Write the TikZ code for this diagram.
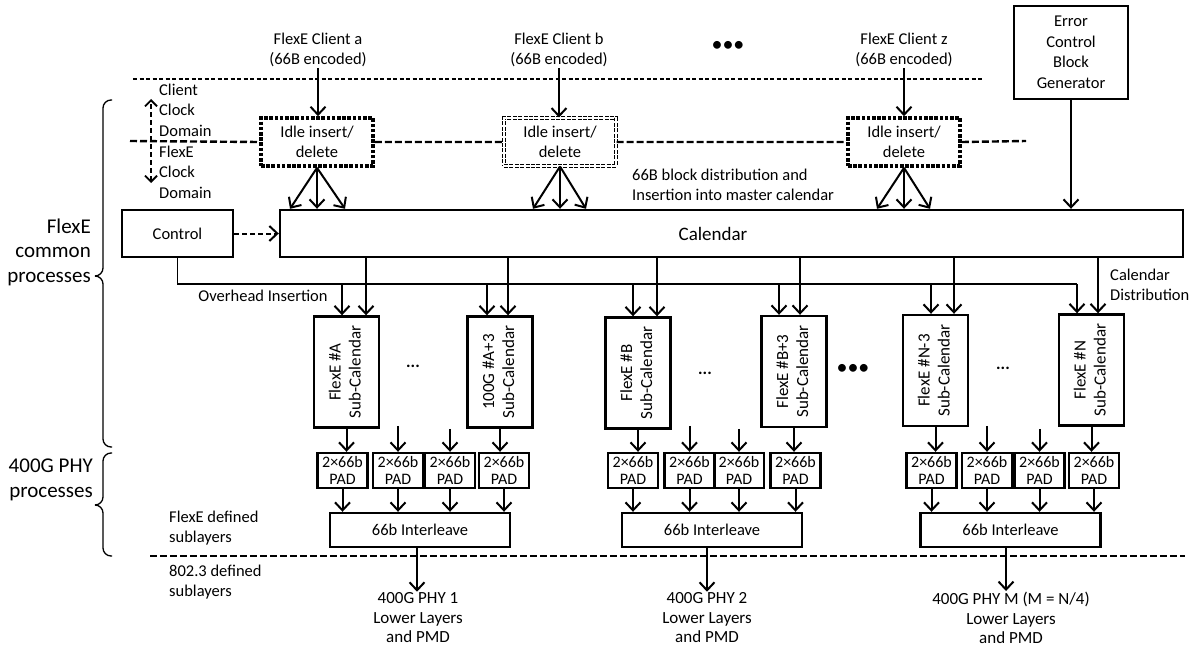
\documentclass[tikz,border=0pt]{standalone}
\usepackage{fontspec}
\setmainfont{Carlito}
\usetikzlibrary{arrows.meta}

\newcommand{\subcaltext}[1]{\rotatebox{90}{\begin{tabular}{@{}c@{}}#1\\Sub-Calendar\end{tabular}}}

\begin{document}
\begin{tikzpicture}[x=1pt,y=-1pt,
  txt/.style={font=\fontsize{16.5}{20.5}\selectfont,align=center,inner sep=1pt},
  box/.style={draw,line width=2.4pt,inner sep=0pt,align=center,font=\fontsize{16.5}{20.5}\selectfont},
  idlebox/.style={box,fill=white,minimum width=112pt,minimum height=48pt,line width=3.6pt,dash pattern=on 3.6pt off 1.6pt},
  idleboxb/.style={box,fill=white,minimum width=112pt,minimum height=48pt,line width=1pt,double,double distance=2.2pt,dash pattern=on 4pt off 1.4pt},
  subcal/.style={box,minimum width=65pt,minimum height=111pt,font=\fontsize{17}{20}\selectfont},
  pad/.style={box,minimum width=50pt,minimum height=35pt,font=\fontsize{16}{17}\selectfont},
  ilv/.style={box,minimum width=180pt,minimum height=34pt},
  arr/.style={line width=2pt,-{Straight Barb[length=8pt,width=15pt]}},
  thinline/.style={line width=1.2pt},
  bracket/.style={line width=1.3pt,rounded corners=8pt},
  biglabel/.style={font=\fontsize{21}{24.5}\selectfont,align=right,inner sep=0pt}]
\useasboundingbox (0,0) rectangle (1199,650);

% clients and clock domains
\node[txt] (cla) at (318,50) {FlexE Client a\\(66B encoded)};
\node[txt] (clb) at (559,50) {FlexE Client b\\(66B encoded)};
\node[txt] (clz) at (904,50) {FlexE Client z\\(66B encoded)};
\node[font=\fontsize{22}{22}\selectfont,inner sep=0pt] (dotstop) at (728,46) {\textbullet\textbullet\textbullet};
\node[box,minimum width=114pt,minimum height=93pt] (errg) at (1071,52.5) {Error\\Control\\Block\\Generator};

\coordinate (topL) at (133,79);
\coordinate (topR) at (983,79);
\draw[thinline,dash pattern=on 4pt off 2.5pt] (topL) -- (topR);

\node[idlebox] (idleA) at (317,142) {Idle insert/\\delete};
\node[idleboxb] (idleB) at (560,142) {Idle insert/\\delete};
\node[idlebox] (idleZ) at (904,142) {Idle insert/\\delete};
\coordinate (domL) at (130,141);
\coordinate (domR) at (1026,141);
\draw[line width=2.4pt,dash pattern=on 7pt off 3pt] (domL) -- (idleA.west) (idleA.east) -- (idleB.west) (idleB.east) -- (idleZ.west) (idleZ.east) -- (domR);

\coordinate (clkT) at (151,99);
\coordinate (clkB) at (151,183);
\draw[line width=1.8pt,dash pattern=on 5pt off 3pt,{Straight Barb[length=6pt,width=12pt]}-{Straight Barb[length=6pt,width=12pt]}] (clkB) -- (clkT);
\node[txt,anchor=west,align=left] (clkcl) at (158,110) {Client\\Clock\\Domain};
\node[txt,anchor=west,align=left] (clkfx) at (158,172) {FlexE\\Clock\\Domain};

% calendar
\node[box,minimum width=111pt,minimum height=47pt] (ctrl) at (177.5,233.5) {Control};
\node[box,minimum width=903pt,minimum height=47pt] (cal) at (731.5,233.5) {};
\node[font=\fontsize{19}{22}\selectfont] (caltxt) at (713,234) {Calendar};
\draw[line width=2pt,dash pattern=on 5pt off 3pt,-{Straight Barb[length=8pt,width=15pt]}] (ctrl.east) -- (cal.west);
\node[txt,anchor=west,align=left] (distxt) at (631,185) {66B block distribution and\\Insertion into master calendar};

\draw[arr] (cla.south) -- (cla.south |- idleA.north);
\draw[arr] (clb.south) -- (clb.south |- idleB.north);
\draw[arr] (clz.south) -- (clz.south |- idleZ.north);
\draw[arr] (idleA.south) -- ([xshift=-27pt]idleA.south |- cal.north);
\draw[arr] (idleA.south) -- (idleA.south |- cal.north);
\draw[arr] (idleA.south) -- ([xshift=28pt]idleA.south |- cal.north);
\draw[arr] (idleB.south) -- ([xshift=-27pt]idleB.south |- cal.north);
\draw[arr] (idleB.south) -- (idleB.south |- cal.north);
\draw[arr] (idleB.south) -- ([xshift=26pt]idleB.south |- cal.north);
\draw[arr] (idleZ.south) -- ([xshift=-27pt]idleZ.south |- cal.north);
\draw[arr] (idleZ.south) -- (idleZ.south |- cal.north);
\draw[arr] (idleZ.south) -- ([xshift=26pt]idleZ.south |- cal.north);
\draw[arr] (errg.south) -- (errg.south |- cal.north);

% sub-calendars
\node[subcal] (subA) at (346.5,372) {\subcaltext{FlexE \#A}};
\node[subcal] (subA3) at (500,372) {\subcaltext{100G \#A+3}};
\node[subcal] (subB) at (638,373) {\subcaltext{FlexE \#B}};
\node[subcal] (subB3) at (794,371.5) {\subcaltext{FlexE \#B+3}};
\node[subcal] (subN3) at (935.5,370.5) {\subcaltext{FlexE \#N-3}};
\node[subcal] (subN) at (1091.5,370) {\subcaltext{FlexE \#N}};
\node[font=\bfseries\fontsize{17}{17}\selectfont] (dotsA) at (413,366) {...};
\node[font=\bfseries\fontsize{17}{17}\selectfont] (dotsB) at (705,373) {...};
\node[font=\bfseries\fontsize{17}{17}\selectfont] (dotsN) at (1003,368) {...};
\node[font=\fontsize{22}{22}\selectfont,inner sep=0pt] (dotsmid) at (853,369) {\textbullet\textbullet\textbullet};

\coordinate (busend) at (1077,284);
\draw[thinline] (ctrl.south) |- (busend);
\node[txt] (ohtxt) at (263,296) {Overhead Insertion};
\node[txt,anchor=west,align=left] (cdtxt) at (1109,285) {Calendar\\Distribution};

\draw[arr] ([xshift=-4.5pt]subA.north |- busend) -- ([xshift=-4.5pt]subA.north);
\draw[arr] ([xshift=19.5pt]subA.north |- cal.south) -- ([xshift=19.5pt]subA.north);
\draw[arr] ([xshift=-13pt]subA3.north |- busend) -- ([xshift=-13pt]subA3.north);
\draw[arr] ([xshift=8pt]subA3.north |- cal.south) -- ([xshift=8pt]subA3.north);
\draw[arr] ([xshift=-5pt]subB.north |- busend) -- ([xshift=-5pt]subB.north);
\draw[arr] ([xshift=19pt]subB.north |- cal.south) -- ([xshift=19pt]subB.north);
\draw[arr] ([xshift=-15pt]subB3.north |- busend) -- ([xshift=-15pt]subB3.north);
\draw[arr] ([xshift=6pt]subB3.north |- cal.south) -- ([xshift=6pt]subB3.north);
\draw[arr] ([xshift=-4.5pt]subN3.north |- busend) -- ([xshift=-4.5pt]subN3.north);
\draw[arr] ([xshift=18.5pt]subN3.north |- cal.south) -- ([xshift=18.5pt]subN3.north);
\draw[arr] (busend) -- (busend |- subN.north);
\draw[arr] ([xshift=6.5pt]subN.north |- cal.south) -- ([xshift=6.5pt]subN.north);

% pads and interleave
\node[pad] (padA1) at (342.5,470.5) {2×66b\\PAD};
\node[pad] (padA2) at (398,470.5) {2×66b\\PAD};
\node[pad] (padA3) at (450,470.5) {2×66b\\PAD};
\node[pad] (padA4) at (504,470.5) {2×66b\\PAD};
\node[pad] (padB1) at (633,470.5) {2×66b\\PAD};
\node[pad] (padB2) at (689.5,470.5) {2×66b\\PAD};
\node[pad] (padB3) at (739,470.5) {2×66b\\PAD};
\node[pad] (padB4) at (795.5,470.5) {2×66b\\PAD};
\node[pad] (padN1) at (931.5,470.5) {2×66b\\PAD};
\node[pad] (padN2) at (987,470.5) {2×66b\\PAD};
\node[pad] (padN3) at (1039.5,470.5) {2×66b\\PAD};
\node[pad] (padN4) at (1094,470.5) {2×66b\\PAD};

\draw[arr] (subA.south) -- (subA.south |- padA1.north);
\draw[arr] ([yshift=26pt]padA2.north) -- (padA2.north);
\draw[arr] ([yshift=23pt]padA3.north) -- (padA3.north);
\draw[arr] (subA3.south) -- (subA3.south |- padA4.north);
\draw[arr] (subB.south) -- (subB.south |- padB1.north);
\draw[arr] ([yshift=26pt]padB2.north) -- (padB2.north);
\draw[arr] ([yshift=23pt]padB3.north) -- (padB3.north);
\draw[arr] (subB3.south) -- (subB3.south |- padB4.north);
\draw[arr] (subN3.south) -- (subN3.south |- padN1.north);
\draw[arr] ([yshift=26pt]padN2.north) -- (padN2.north);
\draw[arr] ([yshift=23pt]padN3.north) -- (padN3.north);
\draw[arr] (subN.south) -- (subN.south |- padN4.north);

\node[ilv] (ilA) at (420,530) {66b Interleave};
\node[ilv] (ilB) at (712,530) {66b Interleave};
\node[ilv] (ilN) at (1010.5,530) {66b Interleave};
\draw[arr] (padA1.south) -- (padA1.south |- ilA.north);
\draw[arr] (padA2.south) -- (padA2.south |- ilA.north);
\draw[arr] (padA3.south) -- (padA3.south |- ilA.north);
\draw[arr] (padA4.south) -- (padA4.south |- ilA.north);
\draw[arr] (padB1.south) -- (padB1.south |- ilB.north);
\draw[arr] (padB2.south) -- (padB2.south |- ilB.north);
\draw[arr] (padB3.south) -- (padB3.south |- ilB.north);
\draw[arr] (padB4.south) -- (padB4.south |- ilB.north);
\draw[arr] (padN1.south) -- (padN1.south |- ilN.north);
\draw[arr] (padN2.south) -- (padN2.south |- ilN.north);
\draw[arr] (padN3.south) -- (padN3.south |- ilN.north);
\draw[arr] (padN4.south) -- (padN4.south |- ilN.north);

% 802.3 sublayers
\coordinate (sepL) at (150,556);
\coordinate (sepR) at (1185,556);
\draw[line width=2.4pt,dash pattern=on 7pt off 3pt] (sepL) -- (sepR);
\node[txt,anchor=west,align=left] (fxdef) at (168,528) {FlexE defined\\sublayers};
\node[txt,anchor=west,align=left] (ieee) at (168,582) {802.3 defined\\sublayers};

\node[txt,font=\fontsize{17}{19.5}\selectfont] (phyA) at (418,618) {400G PHY 1\\Lower Layers\\and PMD};
\node[txt,font=\fontsize{17}{19.5}\selectfont] (phyB) at (707,618) {400G PHY 2\\Lower Layers\\and PMD};
\node[txt,font=\fontsize{17}{19.5}\selectfont] (phyN) at (1011,618) {400G PHY M (M = N/4)\\Lower Layers\\and PMD};
\draw[arr] ([xshift=-3pt]ilA.south) -- ([xshift=-3pt]ilA.south |- phyA.north);
\draw[arr] ([xshift=-5pt]ilB.south) -- ([xshift=-5pt]ilB.south |- phyB.north);
\draw[arr] ([xshift=-4.5pt]ilN.south) -- ([xshift=-4.5pt]ilN.south |- phyN.north);

% brackets on the left
\coordinate (brc1) at (95,276);
\coordinate (brc2) at (95,505);
\draw[bracket] (112,100) -- (103,100) |- (brc1);
\draw[bracket] (brc1) -| (103,447) -- (112,447);
\draw[bracket] (112,453) -- (103,453) |- (brc2);
\draw[bracket] (brc2) -| (103,556) -- (112,556);
\node[biglabel,anchor=east] (common) at (91,252) {FlexE\\common\\processes};
\node[biglabel,anchor=east] (phyproc) at (93,480) {400G PHY\\processes};
\end{tikzpicture}
\end{document}
